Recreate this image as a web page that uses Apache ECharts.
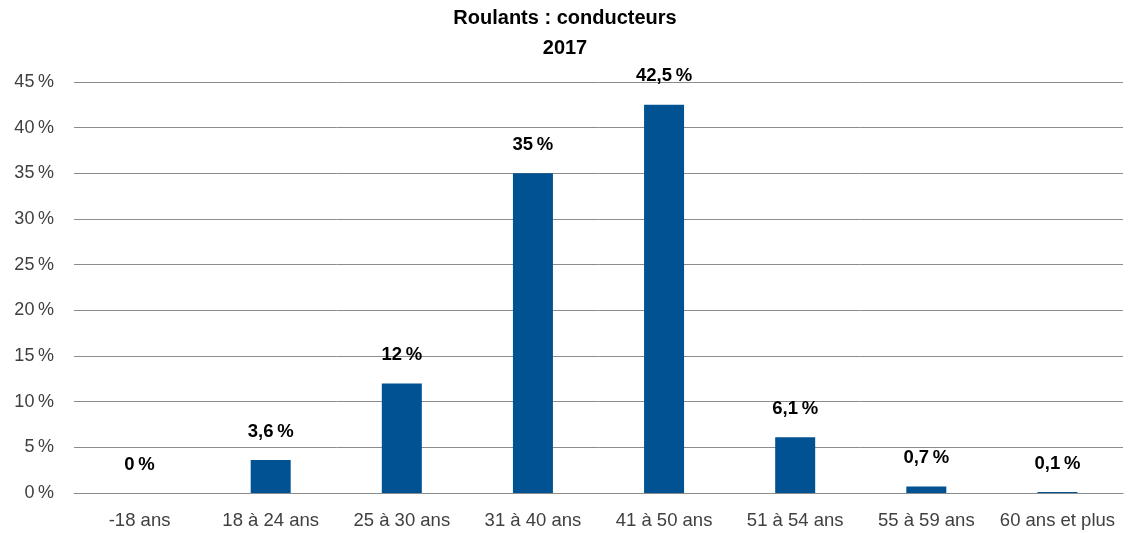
<!DOCTYPE html>
<html>
<head>
<meta charset="utf-8">
<script src="https://cdn.jsdelivr.net/npm/echarts@6/dist/echarts.min.js"></script>
<style>
  html, body { margin: 0; padding: 0; background: #fff; }
  #chart { width: 1130px; height: 533px; }
</style>
</head>
<body>
<div id="chart"></div>
<script>
const categories = ['-18 ans', '18 à 24 ans', '25 à 30 ans', '31 à 40 ans', '41 à 50 ans', '51 à 54 ans', '55 à 59 ans', '60 ans et plus'];
const values = [0, 3.6, 12, 35, 42.5, 6.1, 0.7, 0.1];
const yTicks = [0, 5, 10, 15, 20, 25, 30, 35, 40, 45];

const font = 'Liberation Sans, Arial, sans-serif';
const fmt = v => String(v).replace('.', ',') + '\u202f%';

let myChart = echarts.init(document.getElementById('chart'));
myChart.setOption({
  animation: false,
  textStyle: { fontFamily: font },
  title: {
    text: 'Roulants : conducteurs\n2017',
    left: 'center',
    top: -2,
    textStyle: { fontSize: 20, fontWeight: 'bold', color: '#000', lineHeight: 30, fontFamily: font }
  },
  grid: { left: 74, right: 7, top: 82, bottom: 40 },
  xAxis: {
    type: 'category',
    data: categories,
    axisTick: { show: false },
    axisLine: { lineStyle: { color: '#8c8c8c', width: 1 } },
    axisLabel: { color: '#404040', fontSize: 18.5, margin: 18, interval: 0, fontFamily: font }
  },
  yAxis: {
    type: 'value',
    min: 0,
    max: 45,
    interval: 5,
    axisLine: { show: false },
    axisTick: { show: false },
    axisLabel: {
      color: '#404040', fontSize: 18, margin: 20, fontFamily: font,
      formatter: v => yTicks.includes(v) ? v + '\u202f%' : ''
    },
    splitLine: { lineStyle: { color: '#8c8c8c', width: 1 } }
  },
  series: [{
    type: 'bar',
    data: values,
    barWidth: 40,
    itemStyle: { color: '#005293' },
    label: {
      show: true,
      position: 'top',
      distance: 19,
      color: '#000',
      fontSize: 18.5,
      fontWeight: 'bold',
      fontFamily: font,
      formatter: p => fmt(p.value)
    }
  }]
});
</script>
</body>
</html>
